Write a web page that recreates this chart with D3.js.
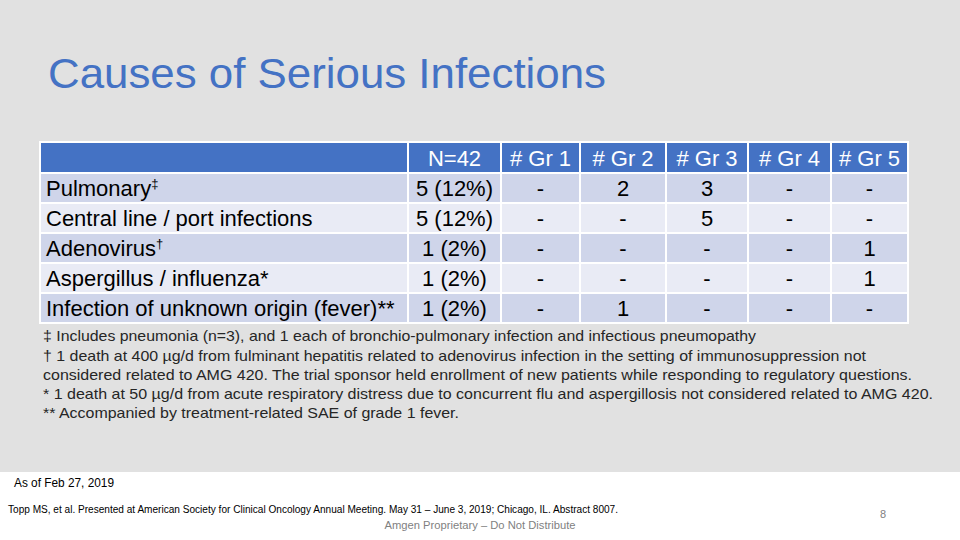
<!DOCTYPE html>
<html><head><meta charset="utf-8">
<script src="https://cdn.jsdelivr.net/npm/d3@7"></script>
<style>body{margin:0;background:#fff;} svg{display:block;font-family:Arial,"Liberation Sans",sans-serif;}</style>
</head><body>
<svg id="c" width="960" height="540"></svg>
<script>
// ---- data ----
const title = "Causes of Serious Infections";
const columns = ["", "N=42", "# Gr 1", "# Gr 2", "# Gr 3", "# Gr 4", "# Gr 5"];
const categories = ["Pulmonary", "Central line / port infections", "Adenovirus", "Aspergillus / influenza*", "Infection of unknown origin (fever)**"];
const categoryMarks = ["‡", "", "†", "", ""];
const nCounts = ["5 (12%)", "5 (12%)", "1 (2%)", "1 (2%)", "1 (2%)"];
const gr1 = ["-", "-", "-", "-", "-"];
const gr2 = ["2", "-", "-", "-", "1"];
const gr3 = ["3", "5", "-", "-", "-"];
const gr4 = ["-", "-", "-", "-", "-"];
const gr5 = ["-", "-", "1", "1", "-"];
const footnotes = [
  "‡ Includes pneumonia (n=3), and 1 each of bronchio-pulmonary infection and infectious pneumopathy",
  "† 1 death at 400 µg/d from fulminant hepatitis related to adenovirus infection in the setting of immunosuppression not",
  "considered related to AMG 420. The trial sponsor held enrollment of new patients while responding to regulatory questions.",
  "* 1 death at 50 µg/d from acute respiratory distress due to concurrent flu and aspergillosis not considered related to AMG 420.",
  "** Accompanied by treatment-related SAE of grade 1 fever."
];
const asOf = "As of Feb 27, 2019";
const citation = "Topp MS, et al. Presented at American Society for Clinical Oncology Annual Meeting. May 31 – June 3, 2019; Chicago, IL. Abstract 8007.";
const proprietary = "Amgen Proprietary – Do Not Distribute";
const pageNum = "8";

// ---- layout ----
const svg = d3.select("#c");
svg.append("rect").attr("x",0).attr("y",0).attr("width",960).attr("height",472).attr("fill","#e1e1e1");

svg.append("text").attr("x",48).attr("y",88).attr("fill","#4472c4")
  .attr("font-size",43).attr("textLength",558).attr("lengthAdjust","spacingAndGlyphs").text(title);

// column edges (layout)
const colEdges = [40, 408, 501, 580, 666, 748, 831, 908];
const colX = d3.scaleOrdinal().domain(columns.map((d,i)=>i)).range(colEdges.slice(0,7));
const colW = i => colEdges[i+1]-colEdges[i];
const headerTop = 142, headerBottom = 173;
const y = d3.scaleBand().domain(categories.map((d,i)=>i)).range([173, 323]).padding(0);

const rows = categories.map((c,i)=>[c, nCounts[i], gr1[i], gr2[i], gr3[i], gr4[i], gr5[i]]);
const fs = 22;

const g = svg.append("g");
// header
g.selectAll("rect.h").data(columns).join("rect")
  .attr("x",(d,i)=>colX(i)).attr("y",headerTop).attr("width",(d,i)=>colW(i)).attr("height",headerBottom-headerTop)
  .attr("fill","#4472c4").attr("stroke","#fff").attr("stroke-width",2);
g.selectAll("text.h").data(columns).join("text")
  .attr("x",(d,i)=>colX(i)+colW(i)/2).attr("y",headerTop+23.5).attr("text-anchor","middle")
  .attr("fill","#fff").attr("font-size",fs).text(d=>d);

// body
rows.forEach((r,ri)=>{
  const rg = g.append("g");
  rg.selectAll("rect").data(r).join("rect")
    .attr("x",(d,i)=>colX(i)).attr("y",y(ri)).attr("width",(d,i)=>colW(i)).attr("height",y.bandwidth())
    .attr("fill", ri%2===0 ? "#cfd5ea" : "#e9ebf5").attr("stroke","#fff").attr("stroke-width",2);
  rg.selectAll("text").data(r).join("text")
    .attr("x",(d,i)=>i===0 ? colX(i)+6 : colX(i)+colW(i)/2)
    .attr("y",y(ri)+y.bandwidth()/2+8)
    .attr("text-anchor",(d,i)=>i===0?"start":"middle")
    .attr("fill","#000").attr("font-size",fs)
    .each(function(d,i){
      const t = d3.select(this);
      t.append("tspan").text(d);
      if(i===0 && categoryMarks[ri]) t.append("tspan").attr("font-size",13).attr("dy",-8).text(categoryMarks[ri]);
    });
});
// outer white border
g.append("rect").attr("x",40).attr("y",headerTop).attr("width",868).attr("height",323-headerTop)
  .attr("fill","none").attr("stroke","#fff").attr("stroke-width",2);

// footnotes
const fnX = [43,43,43,43,43];
const fnEnd = [756, 866, 912, 933, 459];
const fnY = [341, 361, 380, 399, 418];
svg.selectAll("text.fn").data(footnotes).join("text").attr("class","fn")
  .attr("x",(d,i)=>fnX[i]).attr("y",(d,i)=>fnY[i]).attr("fill","#262626").attr("font-size",14.5)
  .attr("textLength",(d,i)=>fnEnd[i]-fnX[i]).attr("lengthAdjust","spacingAndGlyphs").text(d=>d);

// footer
svg.append("text").attr("x",14).attr("y",487).attr("font-size",12).attr("fill","#000")
  .attr("textLength",100).attr("lengthAdjust","spacingAndGlyphs").text(asOf);
svg.append("text").attr("x",8).attr("y",513).attr("font-size",10).attr("fill","#000")
  .attr("textLength",610).attr("lengthAdjust","spacingAndGlyphs").text(citation);
svg.append("text").attr("x",480).attr("y",529).attr("text-anchor","middle").attr("font-size",11).attr("fill","#7f7f7f")
  .attr("textLength",191).attr("lengthAdjust","spacingAndGlyphs").text(proprietary);
svg.append("text").attr("x",883).attr("y",518).attr("text-anchor","middle").attr("font-size",11).attr("fill","#7f7f7f").text(pageNum);
</script>
</body></html>
